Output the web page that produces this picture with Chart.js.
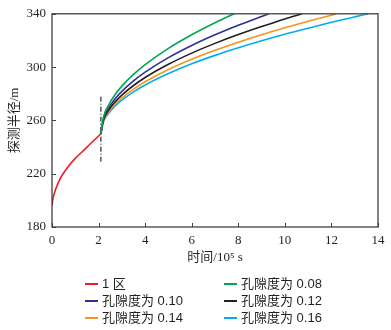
<!DOCTYPE html>
<html>
<head>
<meta charset="utf-8">
<script src="https://cdn.jsdelivr.net/npm/chart.js@4.4.1/dist/chart.umd.min.js"></script>
<style>
  html, body { margin: 0; padding: 0; background: #fff; }
  #wrap { position: relative; width: 391px; height: 330px; }
  #c { position: absolute; left: 0; top: 0; }
  .lg { position: absolute; font-family: "Liberation Sans", "Noto Sans CJK SC", sans-serif; font-size: 13px; color: #231f20; line-height: 16px; white-space: nowrap; }
  .lg .sw { position: absolute; top: 7px; height: 2px; width: 13px; }
  .lg span.t { position: absolute; left: 17px; top: 0; }
</style>
</head>
<body>
<div id="wrap">
  <canvas id="c" width="391" height="330"></canvas>
  <div id="legend"></div>
</div>
<script>
// ---- data ----
const seriesNames = ["1 区", "孔隙度为 0.08", "孔隙度为 0.10", "孔隙度为 0.12", "孔隙度为 0.14", "孔隙度为 0.16"];
const seriesColors = ["#ed1c24", "#00a651", "#2e3192", "#231f20", "#f7941d", "#00aeef"];

const zone1T = [0, 0.05, 0.15, 0.3, 0.5, 0.75, 1.0, 1.3, 1.65, 2.1];
const zone1R = [196, 202, 208, 214.5, 220.5, 226.5, 231.5, 236.5, 242.5, 250];

const phi08T = [2.1, 2.2, 2.4, 2.7, 3, 3.5, 4, 5, 6, 7, 7.82];
const phi08R = [250, 261.9, 270.6, 279.2, 285.7, 294.5, 301.9, 314.1, 324.3, 333.3, 340];

const phi10T = [2.1, 2.2, 2.4, 2.7, 3, 3.5, 4, 5, 6, 7, 8, 9, 9.31];
const phi10R = [250, 260.6, 268.4, 276.0, 281.8, 289.7, 296.2, 307.1, 316.2, 324.2, 331.4, 338.0, 340];

const phi12T = [2.1, 2.2, 2.4, 2.7, 3, 3.5, 4, 5, 6, 7, 8, 9, 10, 10.74];
const phi12R = [250, 259.7, 266.8, 273.7, 279.0, 286.2, 292.2, 302.1, 310.5, 317.8, 324.4, 330.4, 336.1, 340];

const phi14T = [2.1, 2.2, 2.4, 2.7, 3, 3.5, 4, 5, 6, 7, 8, 9, 10, 11, 12, 12.22];
const phi14R = [250, 258.9, 265.5, 271.9, 276.8, 283.5, 289.0, 298.2, 305.9, 312.6, 318.7, 324.3, 329.5, 334.4, 339.0, 340];

const phi16T = [2.1, 2.2, 2.4, 2.7, 3, 3.5, 4, 5, 6, 7, 8, 9, 10, 11, 12, 13, 13.58];
const phi16R = [250, 258.4, 264.6, 270.6, 275.2, 281.4, 286.6, 295.2, 302.5, 308.8, 314.5, 319.8, 324.7, 329.2, 333.6, 337.7, 340];

const markerT = [2.1, 2.1];
const markerR = [229, 278];

const xTicks = [0, 2, 4, 6, 8, 10, 12, 14];
const yTicks = [180, 220, 260, 300, 340];

// ---- build datasets ----
function pts(t, r) { return t.map((v, i) => ({ x: v, y: r[i] })); }
const seriesData = [
  pts(zone1T, zone1R), pts(phi08T, phi08R), pts(phi10T, phi10R),
  pts(phi12T, phi12R), pts(phi14T, phi14R), pts(phi16T, phi16R)
];
const datasets = seriesData.map((d, i) => ({
  label: seriesNames[i], data: d, borderColor: seriesColors[i], backgroundColor: seriesColors[i],
  borderWidth: 1.6, pointRadius: 0, fill: false,
  tension: i === 0 ? 0.35 : 0, cubicInterpolationMode: i === 0 ? 'default' : 'monotone'
}));
datasets.push({
  label: 'marker', data: pts(markerT, markerR), borderColor: '#000', borderWidth: 1,
  borderDash: [5, 2, 1, 2], pointRadius: 0, fill: false
});

const frame = {
  id: 'frame',
  afterDatasetsDraw(chart) {
    const { ctx, chartArea: a, scales: { x, y } } = chart;
    ctx.save();
    ctx.strokeStyle = '#404040';
    ctx.lineWidth = 1.3;
    ctx.strokeRect(a.left, a.top, a.right - a.left, a.bottom - a.top);
    ctx.lineWidth = 1;
    ctx.beginPath();
    xTicks.forEach(v => { const px = Math.round(x.getPixelForValue(v)) + 0.5; ctx.moveTo(px, a.bottom); ctx.lineTo(px, a.bottom - 4); });
    yTicks.forEach(v => { const py = Math.round(y.getPixelForValue(v)) + 0.5; ctx.moveTo(a.left, py); ctx.lineTo(a.left + 4, py); });
    ctx.stroke();
    ctx.restore();
  }
};

const tickFont = { family: '"Liberation Serif", "Times New Roman", serif', size: 13 };
const titleFont = { family: '"Liberation Serif", "Noto Sans CJK SC", serif', size: 13 };

new Chart(document.getElementById('c'), {
  type: 'line',
  data: { datasets },
  options: {
    responsive: false, animation: false,
    layout: { padding: { left: 0, right: 13, top: 11, bottom: 63 } },
    plugins: { legend: { display: false }, tooltip: { enabled: false } },
    scales: {
      x: {
        type: 'linear', min: 0, max: 14,
        afterBuildTicks: s => { s.ticks = xTicks.map(v => ({ value: v })); },
        afterFit: s => { s.height = 40; },
        grid: { display: false, drawTicks: false },
        border: { display: false },
        ticks: { font: tickFont, color: '#231f20', padding: 6, maxRotation: 0 },
        title: { display: true, text: '时间/10⁵ s', font: titleFont, color: '#231f20', padding: { top: 0, bottom: 2 } }
      },
      y: {
        type: 'linear', min: 180, max: 340,
        afterBuildTicks: s => { s.ticks = yTicks.map(v => ({ value: v })); },
        afterFit: s => { s.width = 52; },
        grid: { display: false, drawTicks: false },
        border: { display: false },
        ticks: { font: tickFont, color: '#231f20', padding: 6 },
        title: { display: true, text: '探测半径/m', font: titleFont, color: '#231f20', padding: { top: 7, bottom: 0 } }
      }
    }
  },
  plugins: [frame]
});

// ---- HTML legend (two columns) ----
const legendPos = [[85, 276], [224, 276], [85, 293], [224, 293], [85, 310], [224, 310]];
const lg = document.getElementById('legend');
seriesNames.forEach((n, i) => {
  const d = document.createElement('div');
  d.className = 'lg';
  d.style.left = legendPos[i][0] + 'px';
  d.style.top = legendPos[i][1] + 'px';
  d.innerHTML = '<div class="sw" style="background:' + seriesColors[i] + '"></div><span class="t">' + n + '</span>';
  lg.appendChild(d);
});
</script>
</body>
</html>
